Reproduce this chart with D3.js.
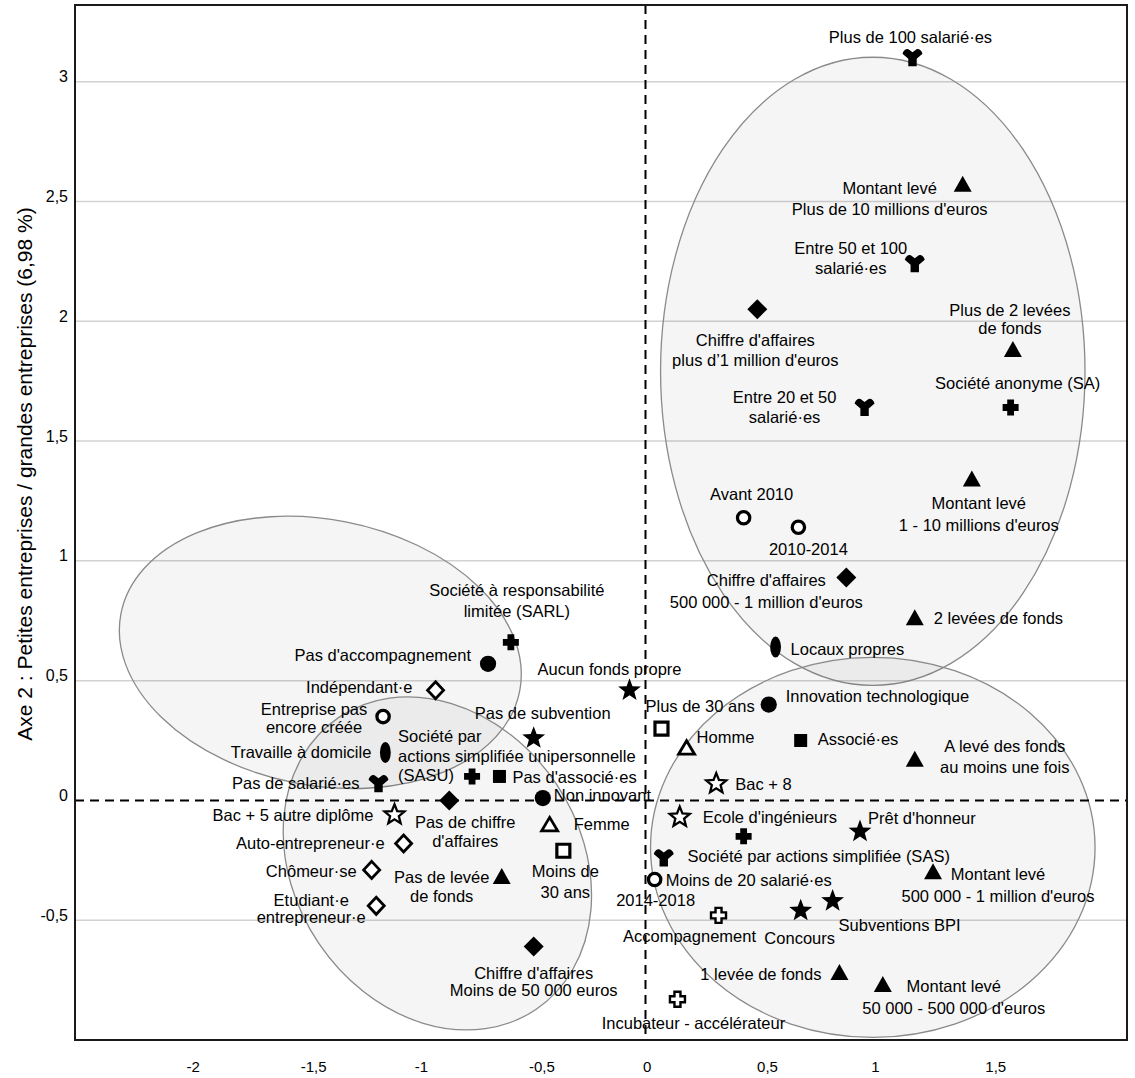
<!DOCTYPE html>
<html>
<head>
<meta charset="utf-8">
<script src="https://cdn.jsdelivr.net/npm/d3@7"></script>
<style>
  body { margin: 0; background: #fff; }
  text { font-family: "Liberation Sans", Arial, sans-serif; fill: #000; }
</style>
</head>
<body>
<svg id="chart"></svg>
<script>
// ---- data (axis 1 / axis 2 coordinates) ----
const pointNames = [
  "Plus de 100 salarié·es",
  "Montant levé\nPlus de 10 millions d'euros",
  "Entre 50 et 100\nsalarié·es",
  "Chiffre d'affaires\nplus d’1 million d'euros",
  "Plus de 2 levées\nde fonds",
  "Société anonyme (SA)",
  "Entre 20 et 50\nsalarié·es",
  "Montant levé\n1 - 10 millions d'euros",
  "Avant 2010",
  "2010-2014",
  "Chiffre d'affaires\n500 000 - 1 million d'euros",
  "2 levées de fonds",
  "Locaux propres",
  "Aucun fonds propre",
  "Innovation technologique",
  "Plus de 30 ans",
  "Homme",
  "Associé·es",
  "A levé des fonds\nau moins une fois",
  "Bac + 8",
  "Pas de subvention",
  "Pas d'associé·es",
  "Société par\nactions simplifiée unipersonnelle\n(SASU)",
  "Non innovant",
  "Pas de chiffre\nd'affaires",
  "Femme",
  "Moins de\n30 ans",
  "Pas de levée\nde fonds",
  "Chiffre d'affaires\nMoins de 50 000 euros",
  "Bac + 5 autre diplôme",
  "Auto-entrepreneur·e",
  "Chômeur·se",
  "Etudiant·e\nentrepreneur·e",
  "Pas de salarié·es",
  "Travaille à domicile",
  "Entreprise pas\nencore créée",
  "Indépendant·e",
  "Pas d'accompagnement",
  "Société à responsabilité\nlimitée (SARL)",
  "Ecole d'ingénieurs",
  "Prêt d'honneur",
  "Société par actions simplifiée (SAS)",
  "Moins de 20 salarié·es",
  "2014-2018",
  "Montant levé\n500 000 - 1 million d'euros",
  "Accompagnement",
  "Concours",
  "Subventions BPI",
  "1 levée de fonds",
  "Montant levé\n50 000 - 500 000 d'euros",
  "Incubateur - accélérateur"
];

const axis1 = [
  1.17, 1.39, 1.18, 0.49, 1.61, 1.60, 0.96, 1.43, 0.43, 0.67,
  0.88, 1.18, 0.57, -0.07, 0.54, 0.07, 0.18, 0.68, 1.18, 0.31,
  -0.49, -0.64, -0.76, -0.45, -0.86, -0.42, -0.36, -0.63, -0.49, -1.10,
  -1.06, -1.20, -1.18, -1.17, -1.14, -1.15, -0.92, -0.69, -0.59, 0.15,
  0.94, 0.43, 0.08, 0.04, 1.26, 0.32, 0.68, 0.82, 0.85, 1.04,
  0.14
];

const axis2 = [
  3.10, 2.57, 2.24, 2.05, 1.88, 1.64, 1.64, 1.34, 1.18, 1.14,
  0.93, 0.76, 0.64, 0.46, 0.40, 0.30, 0.22, 0.25, 0.17, 0.07,
  0.26, 0.10, 0.10, 0.01, 0.00, -0.10, -0.21, -0.32, -0.61, -0.06,
  -0.18, -0.29, -0.44, 0.07, 0.20, 0.35, 0.46, 0.57, 0.66, -0.07,
  -0.13, -0.15, -0.24, -0.33, -0.30, -0.48, -0.46, -0.42, -0.72, -0.77,
  -0.83
];

// marker family of each modality
const pointKinds = [
  "tshirt", "tri", "tshirt", "diamond", "tri", "cross", "tshirt", "tri", "ring", "ring",
  "diamond", "tri", "oval", "star", "circle", "squareOpen", "triOpen", "square", "tri", "starOpen",
  "star", "square", "cross", "circle", "diamond", "triOpen", "squareOpen", "tri", "diamond", "starOpen",
  "diamondOpen", "diamondOpen", "diamondOpen", "tshirt", "oval", "ring", "diamondOpen", "circle", "cross", "starOpen",
  "star", "cross", "tshirt", "ring", "tri", "crossOpen", "star", "star", "tri", "tri",
  "crossOpen"
];

// groupings drawn as shaded ellipses (centre / radii in axis units, tilt in degrees)
const groupCx = [0.996, -1.425, -0.912, 0.996];
const groupCy = [1.791, 0.618, -0.263, -0.196];
const groupRx = [0.930, 0.890, 0.772, 0.974];
const groupRy = [1.311, 0.555, 0.597, 0.793];
const groupTilt = [0, 11, 56, 0];

const xTickValues = [-2, -1.5, -1, -0.5, 0, 0.5, 1, 1.5];
const xTickLabels = ["-2", "-1,5", "-1", "-0,5", "0", "0,5", "1", "1,5"];
const yTickValues = [-0.5, 0, 0.5, 1, 1.5, 2, 2.5, 3];
const yTickLabels = ["-0,5", "0", "0,5", "1", "1,5", "2", "2,5", "3"];
const yTitle = "Axe 2 : Petites entreprises / grandes entreprises (6,98 %)";

// ---- label placement (pixels from the marker) ----
const labelAnchor = [
  "middle", "middle", "middle", "middle", "middle", "middle", "middle", "middle", "middle", "middle",
  "middle", "start", "start", "middle", "start", "start", "start", "start", "middle", "start",
  "middle", "start", "start", "start", "middle", "start", "middle", "middle", "middle", "end",
  "end", "end", "middle", "end", "end", "middle", "end", "end", "middle", "start",
  "start", "start", "start", "middle", "middle", "middle", "middle", "start", "end", "middle",
  "middle"
];
const labelDx = [
  -2, -73, -64, -2, -3, 7, -80, 7, 8, 10,
  -80, 19, 15, -20, 17, -16, 10, 17, 90, 19,
  9, 13, -74, 11, 16, 24, 2, -60, 0, -21,
  -19, -15, -65, -19, -14, -69, -23, -17, 6, 23,
  8, -56, 2, 1, 65, -29, -1, 6, -18, 71,
  16
];
const labelDy = [
  -21, 3, -16, 31, -40, -24, -10, 24, -24, 22,
  2, 0, 2, -21, -9, -22, -11, -1, -14, 0,
  -25, 1, -40, -3, 22, 0, 20, 0, 26, 0,
  0, 1, -6, -1, 0, -8, -3, -9, -52, 0,
  -14, 20, 22, 21, 2, 21, 27, 24, 1, 1,
  24
];
const labelGap = [
  20, 21, 20, 20, 18, 20, 20, 22, 20, 20,
  22, 20, 20, 20, 20, 20, 20, 20, 21, 20,
  20, 20, 19.5, 20, 19, 20, 21, 19, 17, 20,
  20, 20, 17, 20, 20, 18, 20, 20, 21, 20,
  20, 20, 20, 20, 22, 20, 20, 20, 20, 22,
  20
];

const points = pointNames.map((name, i) => ({
  name: name, x: axis1[i], y: axis2[i], kind: pointKinds[i],
  anchor: labelAnchor[i], dx: labelDx[i], dy: labelDy[i], gap: labelGap[i]
}));
const groups = groupCx.map((cx, i) => ({cx: cx, cy: groupCy[i], rx: groupRx[i], ry: groupRy[i], tilt: groupTilt[i]}));

// ---- marker shapes ----
function starPath(outer, inner) {
  let p = [];
  for (let k = 0; k < 10; k++) {
    const r = k % 2 === 0 ? outer : inner;
    const a = -Math.PI / 2 + k * Math.PI / 5;
    p.push([r * Math.cos(a), r * Math.sin(a)]);
  }
  return "M" + p.map(q => q[0].toFixed(2) + "," + q[1].toFixed(2)).join("L") + "Z";
}
function plusPath(h, t) {
  return `M${-t},${-h}H${t}V${-t}H${h}V${t}H${t}V${h}H${-t}V${t}H${-h}V${-t}H${-t}Z`;
}
const shapes = {
  tshirt:      {d: "M-10,-4Q-8,-9.5 -4,-8.5L0,-5.5L4,-8.5Q8,-9.5 10,-4L4.2,1L4.2,8.5L-4.2,8.5L-4.2,1Z", fill: "#000", sw: 0},
  tri:         {d: "M0,-9L9,7L-9,7Z", fill: "#000", sw: 0},
  triOpen:     {d: "M0,-7L8,6.5L-8,6.5Z", fill: "#fff", sw: 2.8},
  diamond:     {d: "M0,-10L10,0L0,10L-10,0Z", fill: "#000", sw: 0},
  diamondOpen: {d: "M0,-8.5L8,0L0,8.5L-8,0Z", fill: "#fff", sw: 2.8},
  cross:       {d: plusPath(8, 3.4), fill: "#000", sw: 0},
  crossOpen:   {d: plusPath(7.5, 3), fill: "#fff", sw: 2.4},
  square:      {d: "M-6.5,-6.5H6.5V6.5H-6.5Z", fill: "#000", sw: 0},
  squareOpen:  {d: "M-6.5,-6.5H6.5V6.5H-6.5Z", fill: "#fff", sw: 3.2},
  star:        {d: starPath(12, 5), fill: "#000", sw: 0},
  starOpen:    {d: starPath(10.5, 4.6), fill: "#fff", sw: 2.3},
  circle:      {d: d3.symbol(d3.symbolCircle, Math.PI * 66)(), fill: "#000", sw: 0},
  ring:        {d: d3.symbol(d3.symbolCircle, Math.PI * 38)(), fill: "#fff", sw: 3.3},
  oval:        {d: "M0,-10.5A5.4,10.5 0 1,1 0,10.5A5.4,10.5 0 1,1 0,-10.5Z", fill: "#000", sw: 0}
};

// ---- layout ----
const W = 1135, H = 1078;
const margin = {top: 5, right: 8, bottom: 38, left: 75};
const width = W - margin.left - margin.right;
const height = H - margin.top - margin.bottom;

const svg = d3.select("#chart").attr("width", W).attr("height", H);
const chart = svg.append("g").attr("transform", `translate(${margin.left},${margin.top})`);

const xScale = d3.scaleLinear().domain([-2.5, 2.11]).range([0, width]);
const yScale = d3.scaleLinear().domain([-1.0, 3.32]).range([height, 0]);

// horizontal grid
chart.append("g").selectAll("line")
  .data(yTickValues.filter(v => v !== 0))
  .join("line")
  .attr("x1", 0).attr("x2", width)
  .attr("y1", d => yScale(d)).attr("y2", d => yScale(d))
  .attr("stroke", "#d2d2d2").attr("stroke-width", 1.5);

// group ellipses
chart.append("g").selectAll("ellipse")
  .data(groups)
  .join("ellipse")
  .attr("cx", 0).attr("cy", 0)
  .attr("rx", d => xScale(d.rx) - xScale(0))
  .attr("ry", d => yScale(0) - yScale(d.ry))
  .attr("transform", d => `translate(${xScale(d.cx)},${yScale(d.cy)}) rotate(${d.tilt})`)
  .attr("fill", "#000").attr("fill-opacity", 0.04)
  .attr("stroke", "#8a8a8a").attr("stroke-width", 1.3);

// axes (labels only)
const xAxis = d3.axisBottom(xScale).tickValues(xTickValues)
  .tickFormat((d, i) => xTickLabels[i]).tickSize(0);
const yAxis = d3.axisLeft(yScale).tickValues(yTickValues)
  .tickFormat((d, i) => yTickLabels[i]).tickSize(0);

chart.append("g").attr("transform", `translate(0,${height})`)
  .call(xAxis)
  .call(g => g.select(".domain").remove())
  .call(g => g.selectAll("text")
    .attr("text-anchor", "start").attr("x", -3).attr("y", 32).attr("dy", 0)
    .attr("font-size", 15).attr("fill", "#000")
    .style("font-family", '"Liberation Sans", Arial, sans-serif'));

chart.append("g")
  .call(yAxis)
  .call(g => g.select(".domain").remove())
  .call(g => g.selectAll("text")
    .attr("x", -7).attr("dy", 0)
    .attr("font-size", 16).attr("fill", "#000")
    .style("font-family", '"Liberation Sans", Arial, sans-serif'));

// zero lines
chart.append("line")
  .attr("x1", 0).attr("x2", width).attr("y1", yScale(0)).attr("y2", yScale(0))
  .attr("stroke", "#000").attr("stroke-width", 2).attr("stroke-dasharray", "9,6");
chart.append("line")
  .attr("x1", xScale(0)).attr("x2", xScale(0)).attr("y1", 0).attr("y2", height)
  .attr("stroke", "#000").attr("stroke-width", 2).attr("stroke-dasharray", "9,6");

// frame
chart.append("rect")
  .attr("x", 0).attr("y", 0).attr("width", width).attr("height", height)
  .attr("fill", "none").attr("stroke", "#1a1a1a").attr("stroke-width", 2);

// markers
chart.append("g").selectAll("path")
  .data(points)
  .join("path")
  .attr("transform", d => `translate(${xScale(d.x)},${yScale(d.y)})`)
  .attr("d", d => shapes[d.kind].d)
  .attr("fill", d => shapes[d.kind].fill)
  .attr("stroke", d => shapes[d.kind].sw ? "#000" : "none")
  .attr("stroke-width", d => shapes[d.kind].sw)
  .attr("stroke-linejoin", "miter");

// labels
const labelG = chart.append("g");
points.forEach(d => {
  const lx = xScale(d.x) + d.dx;
  const t = labelG.append("text")
    .attr("x", lx).attr("y", yScale(d.y) + d.dy)
    .attr("text-anchor", d.anchor)
    .attr("font-size", 16.5);
  d.name.split("\n").forEach((line, i) => {
    t.append("tspan").attr("x", lx)
      .attr("dy", i === 0 ? "0.36em" : d.gap)
      .text(line);
  });
});

// y axis title
svg.append("text")
  .attr("transform", "translate(32,474) rotate(-90)")
  .attr("text-anchor", "middle")
  .attr("font-size", 21)
  .text(yTitle);
</script>
</body>
</html>
